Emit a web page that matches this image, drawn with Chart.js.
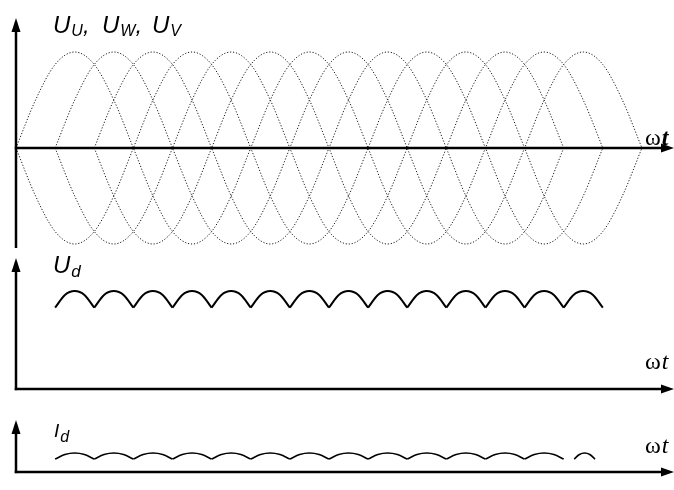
<!DOCTYPE html>
<html>
<head>
<meta charset="utf-8">
<script src="https://cdn.jsdelivr.net/npm/chart.js@4/dist/chart.umd.min.js"></script>
<style>
  html, body { margin: 0; padding: 0; background: #fff; }
  #wrap { position: relative; width: 674px; height: 490px; overflow: hidden; }
  #wrap canvas { position: absolute; left: 0; }
</style>
</head>
<body>
<div id="wrap">
  <canvas id="cPhase" width="674" height="250" style="top:0px"></canvas>
  <canvas id="cUd" width="674" height="145" style="top:250px"></canvas>
  <canvas id="cId" width="674" height="95" style="top:395px"></canvas>
</div>
<script>
// ωt axis in units of 60° (one sixth of a mains period)
const X_END = 16.82;
const STEP = 0.5;               // phase samples every 30°

// Phase voltages (per unit), each starting at its own zero crossing
const phaseNames = ['U', 'W', 'V'];
const phaseStart = [0, 1, 2];
const uU = [0, 0.5, 0.87, 1, 0.87, 0.5, 0, -0.5, -0.87, -1, -0.87, -0.5,
            0, 0.5, 0.87, 1, 0.87, 0.5, 0, -0.5, -0.87, -1, -0.87, -0.5,
            0, 0.5, 0.87, 1, 0.87, 0.5, 0];
const uW = [0, 0.5, 0.87, 1, 0.87, 0.5, 0, -0.5, -0.87, -1, -0.87, -0.5,
            0, 0.5, 0.87, 1, 0.87, 0.5, 0, -0.5, -0.87, -1, -0.87, -0.5,
            0, 0.5, 0.87, 1, 0.87, 0.5, 0];
const uV = [0, 0.5, 0.87, 1, 0.87, 0.5, 0, -0.5, -0.87, -1, -0.87, -0.5,
            0, 0.5, 0.87, 1, 0.87, 0.5, 0, -0.5, -0.87, -1, -0.87, -0.5, 0];
const phaseValues = [uU, uW, uV];

// Rectified voltage Ud: one ripple arc between consecutive commutation points
const udCusps = [1, 2, 3, 4, 5, 6, 7, 8, 9, 10, 11, 12, 13, 14, 15];
const arcFrac = [0, 0.25, 0.5, 0.75, 1];
const udArc = [0.83, 0.96, 1, 0.96, 0.83];

// Load current Id ripple arcs [from, to]
const idSpans = [[1, 2], [2, 3], [3, 4], [4, 5], [5, 6], [6, 7], [7, 8],
                 [8, 9], [9, 10], [10, 11], [11, 12], [12, 13], [13, 14], [14.27, 14.8]];
const idArc = [0.68, 0.92, 1, 0.92, 0.68];

// ---------------------------------------------------------------------------
const SANS = '"Liberation Sans", Arial, sans-serif';
const SERIF = '"Liberation Serif", "Times New Roman", serif';

// Axes with arrowheads, drawn through the chart's own scales
const axisArrows = {
  id: 'axisArrows',
  afterDatasetsDraw(chart, args, o) {
    const { ctx, scales: { x, y } } = chart;
    const x0 = x.getPixelForValue(0);
    const y0 = y.getPixelForValue(0);
    const xe = x.getPixelForValue(x.max);
    const yt = y.getPixelForValue(o.yTop);
    const yb = y.getPixelForValue(o.yBottom);
    const lw = 2.5, len = 13, hw = 4.5;
    ctx.save();
    ctx.strokeStyle = '#000';
    ctx.fillStyle = '#000';
    ctx.lineWidth = lw;
    ctx.lineCap = 'butt';
    ctx.beginPath();
    ctx.moveTo(x0 - lw / 2, y0);
    ctx.lineTo(xe - len + 1, y0);
    ctx.stroke();
    ctx.beginPath();
    ctx.moveTo(xe, y0);
    ctx.lineTo(xe - len, y0 - hw);
    ctx.lineTo(xe - len, y0 + hw);
    ctx.closePath();
    ctx.fill();
    ctx.beginPath();
    ctx.moveTo(x0, yb);
    ctx.lineTo(x0, yt + len - 1);
    ctx.stroke();
    ctx.beginPath();
    ctx.moveTo(x0, yt);
    ctx.lineTo(x0 - hw, yt + len + 1);
    ctx.lineTo(x0 + hw, yt + len + 1);
    ctx.closePath();
    ctx.fill();
    ctx.restore();
  }
};

// Axis captions (runs of text laid out left to right)
const captions = {
  id: 'captions',
  afterDraw(chart, args, o) {
    const ctx = chart.ctx;
    ctx.save();
    ctx.fillStyle = '#000';
    ctx.textBaseline = 'alphabetic';
    ctx.textAlign = 'left';
    (o.groups || []).forEach(g => {
      let cx = g.x;
      g.runs.forEach(r => {
        ctx.font = r.font;
        ctx.fillText(r.text, cx + (r.dx || 0), g.y - o.offset + (r.dy || 0));
        cx += ctx.measureText(r.text).width + (r.dx || 0);
      });
    });
    ctx.restore();
  }
};

function options(yMin, yMax, arrows, groups, offset) {
  return {
    responsive: false,
    animation: false,
    devicePixelRatio: 1,
    layout: { padding: { left: 16, right: 0, top: 0, bottom: 0 } },
    events: [],
    plugins: {
      legend: { display: false },
      tooltip: { enabled: false },
      axisArrows: arrows,
      captions: { groups, offset }
    },
    scales: {
      x: { type: 'linear', min: 0, max: X_END, display: false },
      y: { type: 'linear', min: yMin, max: yMax, display: false }
    },
    elements: { point: { radius: 0 } }
  };
}

const MAIN = 'italic 24px ' + SANS;
const SUB = 'italic 16px ' + SANS;
const OMEGA = '24px ' + SERIF;

function build() {
  // ---- phase voltages -----------------------------------------------------
  const phaseSets = [];
  phaseValues.forEach((vals, k) => {
    [1, -1].forEach(sign => {
      phaseSets.push({
        label: 'U' + phaseNames[k] + (sign < 0 ? ' (−)' : ''),
        data: vals.map((v, i) => ({ x: phaseStart[k] + i * STEP, y: sign * v })),
        borderColor: '#1a1a1a',
        borderWidth: 1,
        borderDash: [1.2, 1.8],
        cubicInterpolationMode: 'monotone',
        fill: false
      });
    });
  });

  new Chart(document.getElementById('cPhase'), {
    type: 'line',
    data: { datasets: phaseSets },
    options: options(-1.0625, 1.5417, { yTop: 1.354, yBottom: -1.042 }, [
      { x: 53, y: 33, runs: [{ text: 'U', font: MAIN }, { text: 'U', font: SUB, dx: 1, dy: 3 }, { text: ',', font: MAIN }] },
      { x: 102, y: 33, runs: [{ text: 'U', font: MAIN }, { text: 'W', font: SUB, dx: 1, dy: 3 }, { text: ',', font: MAIN }] },
      { x: 152, y: 33, runs: [{ text: 'U', font: MAIN }, { text: 'V', font: SUB, dx: 1, dy: 3 }] },
      { x: 645, y: 145, runs: [{ text: 'ω', font: OMEGA }, { text: 't', font: 'italic bold 24px ' + SERIF, dx: 1 }] }
    ], 0),
    plugins: [axisArrows, captions]
  });

  // ---- rectified voltage Ud -----------------------------------------------
  const udSets = udCusps.slice(0, -1).map((c, i) => ({
    label: 'Ud',
    data: udArc.map((v, j) => ({ x: c + arcFrac[j] * (udCusps[i + 1] - c), y: v })),
    borderColor: '#000',
    borderWidth: 2,
    cubicInterpolationMode: 'monotone',
    fill: false
  }));

  new Chart(document.getElementById('cUd'), {
    type: 'line',
    data: { datasets: udSets },
    options: options(-0.0612, 1.4184, { yTop: 1.337, yBottom: -0.012 }, [
      { x: 53, y: 273, runs: [{ text: 'U', font: MAIN }, { text: 'd', font: 'italic 17px ' + SANS, dx: 1, dy: 4 }] },
      { x: 645, y: 369, runs: [{ text: 'ω', font: OMEGA }, { text: 't', font: 'italic 24px ' + SERIF, dx: 1 }] }
    ], 250),
    plugins: [axisArrows, captions]
  });

  // ---- load current Id ----------------------------------------------------
  const idSets = idSpans.map(([a, b]) => ({
    label: 'Id',
    data: idArc.map((v, j) => ({ x: a + arcFrac[j] * (b - a), y: v })),
    borderColor: '#000',
    borderWidth: 1.6,
    cubicInterpolationMode: 'monotone',
    fill: false
  }));

  new Chart(document.getElementById('cId'), {
    type: 'line',
    data: { datasets: idSets },
    options: options(-0.9474, 4.0526, { yTop: 2.737, yBottom: -0.06 }, [
      { x: 54, y: 437, runs: [{ text: 'I', font: 'italic 19px ' + SANS }, { text: 'd', font: 'italic 16px ' + SANS, dx: 1, dy: 5 }] },
      { x: 645, y: 453, runs: [{ text: 'ω', font: OMEGA }, { text: 't', font: 'italic 24px ' + SERIF, dx: 1 }] }
    ], 395),
    plugins: [axisArrows, captions]
  });
}

const fontList = [MAIN, SUB, OMEGA, 'italic 24px ' + SERIF, 'italic bold 24px ' + SERIF];
if (document.fonts && document.fonts.load) {
  Promise.all(fontList.map(f => document.fonts.load(f, 'Uωt'))).then(build, build);
} else {
  build();
}
</script>
</body>
</html>
